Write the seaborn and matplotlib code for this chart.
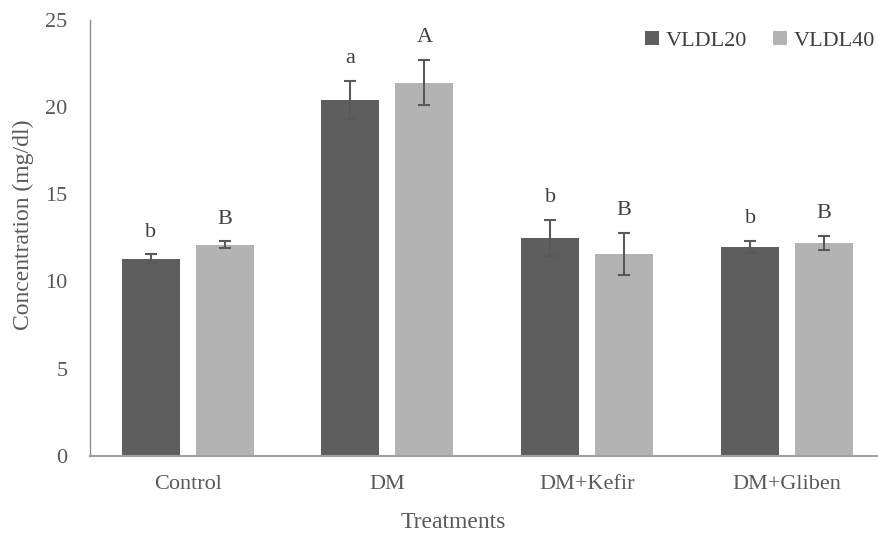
import numpy as np
import pandas as pd
import matplotlib
matplotlib.use("Agg")
import matplotlib.pyplot as plt
import seaborn as sns

# 数据
treatments = ["Control", "DM", "DM+Kefir", "DM+Gliben"]
groups = ["VLDL20", "VLDL40"]
vldl20_mean = [11.3, 20.4, 12.5, 12.0]
vldl20_err = [0.25, 1.1, 1.05, 0.35]
vldl40_mean = [12.1, 21.4, 11.6, 12.2]
vldl40_err = [0.2, 1.3, 1.2, 0.42]
vldl20_letters = ["b", "a", "b", "b"]
vldl40_letters = ["B", "A", "B", "B"]

df = pd.DataFrame({
    "Treatment": treatments * 2,
    "Group": [groups[0]] * 4 + [groups[1]] * 4,
    "Value": vldl20_mean + vldl40_mean,
})

sns.set_theme(style="white")
plt.rcParams["font.family"] = ["Liberation Serif", "DejaVu Serif"]

text_color = "#595959"
fig = plt.figure(figsize=(8.79, 5.37), dpi=100)
ax = fig.add_axes([0.102, 0.151, 0.898, 0.812])

sns.barplot(
    data=df, x="Treatment", y="Value", hue="Group",
    order=treatments, hue_order=groups,
    palette=["#5e5e5e", "#b3b3b3"], width=0.74, gap=0.216,
    errorbar=None, saturation=1, edgecolor="none", ax=ax,
)

# 误差棒和显著性字母
means = [vldl20_mean, vldl40_mean]
errs = [vldl20_err, vldl40_err]
letters = [vldl20_letters, vldl40_letters]
for cont, m, e, lab in zip(ax.containers, means, errs, letters):
    xs = [p.get_x() + p.get_width() / 2 for p in cont]
    ax.errorbar(xs, m, yerr=e, fmt="none", ecolor="#595959",
                elinewidth=1.5, capsize=4, capthick=1.5)
    for x, mv, ev, t in zip(xs, m, e, lab):
        ax.annotate(t, (x, mv + ev), xytext=(0, 9), textcoords="offset points",
                    ha="center", va="bottom", fontsize=16, color="#404040")

ax.set_xlim(-0.49, 3.46)
ax.set_ylim(0, 25)
ax.set_yticks([0, 5, 10, 15, 20, 25])
ax.set_xlabel("Treatments", fontsize=17, color=text_color)
ax.set_ylabel("Concentration (mg/dl)", fontsize=17, color=text_color)
ax.xaxis.set_label_coords(0.46, -0.128)
ax.yaxis.set_label_coords(-0.07, 0.53)
ax.tick_params(axis="x", labelsize=16, colors=text_color, length=0, pad=14)
ax.tick_params(axis="y", labelsize=16, colors=text_color, length=0, pad=16)

for s in ["top", "right"]:
    ax.spines[s].set_visible(False)
ax.spines["left"].set_color("#8c8c8c")
ax.spines["left"].set_linewidth(1.0)
ax.spines["bottom"].set_color("#a0a0a0")
ax.spines["bottom"].set_linewidth(1.5)

ax.legend(loc="upper right", bbox_to_anchor=(1.02, 1.02), ncol=2, frameon=False,
          fontsize=16, handlelength=0.6, handleheight=0.6, handletextpad=0.3,
          columnspacing=1.2, labelcolor="#404040")

fig.savefig("out.png", dpi=100)
